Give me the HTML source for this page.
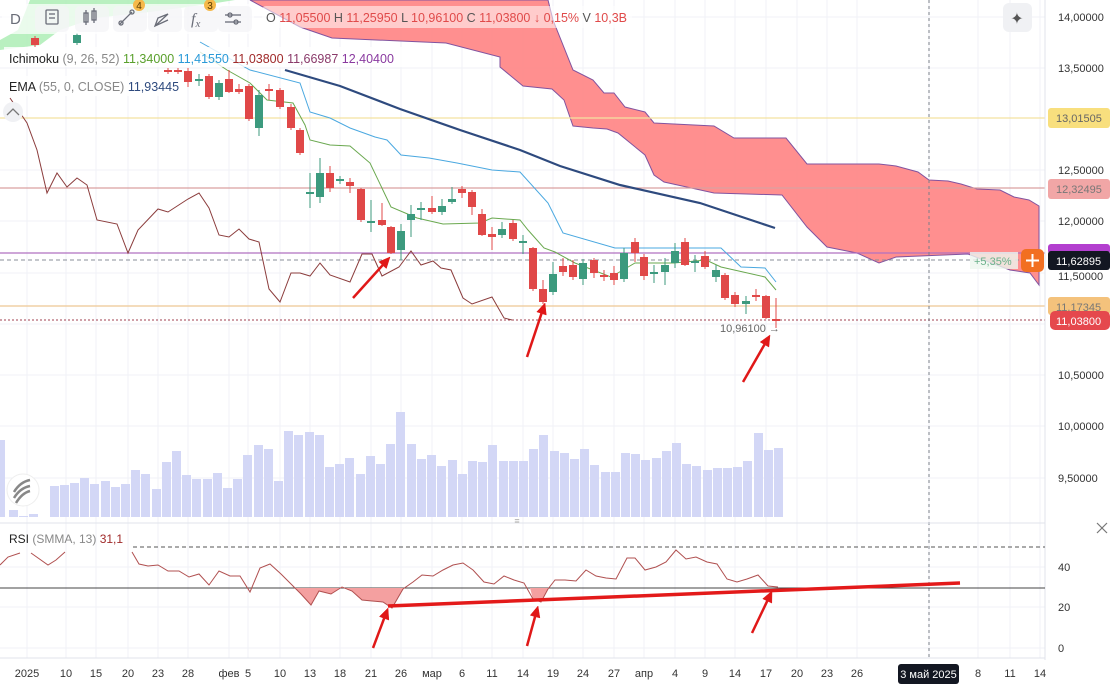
<!DOCTYPE html>
<html><head><meta charset="utf-8">
<style>
html,body{margin:0;padding:0;background:#fff;}
body{width:1114px;height:685px;overflow:hidden;position:relative;font-family:"Liberation Sans",sans-serif;}
svg{position:absolute;left:0;top:0;}
</style></head>
<body>
<svg id="s" width="1114" height="685" viewBox="0 0 1114 685" xmlns="http://www.w3.org/2000/svg" font-family="Liberation Sans, sans-serif">
<g id="grid" stroke="#f0f2f7" stroke-width="1"></g>
<!-- green cloud top-left -->
<polygon points="0,40 18,30 30,0 235,0 210,4 150,12 95,18 60,30 40,45 0,50" fill="#a8ecb0" opacity="0.8"/>
<!-- red cloud -->
<polygon id="cloud" fill="#ff8a8a" opacity="0.95" stroke="#7c4a9a" stroke-width="1"
 points="250,0 548,0 553,20 573,70 593,80 604,93 614,93 625,107 645,112 654,123 714,126 734,138 786,138 807,164 879,164 896,166 918,172 929,180 948,181 961,184 977,189 1000,190 1014,197 1029,200 1039,206 1039,285 1030,273 1010,270 968,254 896,257 879,263 857,253 827,247 807,227 782,195 714,193 664,182 654,175 645,155 618,133 607,129 593,128 573,126 564,100 552,89 523,86 500,67 500,57 446,43 332,38 300,27"/>
<!-- horizontal level lines -->
<line x1="0" y1="118" x2="1045" y2="118" stroke="#f3e2a0" stroke-width="1.2"/>
<line x1="0" y1="188" x2="1045" y2="188" stroke="#d9a0a0" stroke-width="1.2"/>
<line x1="0" y1="253" x2="1045" y2="253" stroke="#b070c0" stroke-width="1.2"/>
<line x1="0" y1="260" x2="1040" y2="260" stroke="#8a8f9a" stroke-width="1" stroke-dasharray="4,3"/>
<line x1="0" y1="306" x2="1045" y2="306" stroke="#eec893" stroke-width="1.2"/>
<line x1="0" y1="320" x2="1045" y2="320" stroke="#a04050" stroke-width="1" stroke-dasharray="2,2"/>
<line x1="929" y1="0" x2="929" y2="660" stroke="#7a7f8a" stroke-width="1" stroke-dasharray="3,3"/>
<!-- volume -->
<g id="vol" fill="#d3d7f6"></g>
<!-- chikou -->
<polyline fill="none" stroke="#8b3c3c" stroke-width="1" points="10,98 27,123 37,150 47,193 57,173 67,187 77,178 87,185 97,220 117,224 128,253 138,230 158,209 168,212 188,199 199,193 209,208 219,235 229,237 239,229 249,239 259,242 269,289 280,302 291,273 300,273 310,276 320,263 330,275 350,282 362,254 372,254 382,276 399,267 411,251 421,265 433,261 441,268 451,270 463,298 472,304 492,297 504,318 512,320"/>
<!-- kijun -->
<polyline fill="none" stroke="#4aa8e0" stroke-width="1" points="200,42 250,70 300,83 310,112 330,118 350,128 375,137 387,140 401,155 429,158 457,163 492,170 520,172 548,203 563,233 615,248 721,248 741,267 765,268 776,282"/>
<!-- tenkan -->
<polyline fill="none" stroke="#6aa84f" stroke-width="1" points="200,52 227,70 250,83 267,100 293,103 305,125 310,140 330,145 350,146 370,163 391,207 417,218 443,224 480,223 492,218 520,220 528,230 544,248 555,252 575,263 611,277 635,263 674,263 706,260 721,267 765,277 776,290"/>
<!-- EMA -->
<polyline fill="none" stroke="#2e4a7e" stroke-width="2.2" points="285,70 340,86 400,109 460,130 520,150 560,166 620,185 700,203 775,228"/>
<g id="candles"></g>
<!-- RSI pane -->
<line x1="0" y1="523" x2="1045" y2="523" stroke="#e0e3eb"/>
<line x1="1045" y1="0" x2="1045" y2="660" stroke="#e0e3eb"/>
<line x1="0" y1="658" x2="1045" y2="658" stroke="#e0e3eb"/>
<line x1="133" y1="547" x2="1045" y2="547" stroke="#555" stroke-dasharray="4,3"/>
<line x1="0" y1="588" x2="1045" y2="588" stroke="#444"/>
<polygon fill="#f4a0a0" points="295,588 301,594 311,605 319,591 331,594 342,587 352,591 362,600 372,601 383,602 392,608 403,589 405,588"/>
<polygon fill="#f4a0a0" points="530,588 533,599 541,602 548,589 549,588"/>
<polyline fill="none" stroke="#b05050" stroke-width="1" points="0,565 8,557 20,553"/>
<polyline fill="none" stroke="#b05050" stroke-width="1" points="31,553 48,565 56,560 65,552"/>
<polyline fill="none" stroke="#b05050" stroke-width="1" points="132,552 139,564 148,566 158,565 168,571 179,571 189,577 199,574 209,585 219,571 230,576 240,576 250,592 260,568 270,564 281,574 291,584 301,594 311,605 319,591 331,594 342,587 352,591 362,600 372,601 383,602 392,608 403,589 413,582 422,575 433,576 443,570 453,565 463,563 473,570 484,582 494,584 504,576 514,580 524,583 533,599 541,602 548,589 555,580 565,580 576,581 586,570 596,576 606,578 616,579 627,558 635,558 645,570 656,567 666,562 676,550 686,559 696,557 707,562 717,564 727,579 737,582 747,579 758,575 768,586 778,587"/>
<line x1="388" y1="606" x2="960" y2="583" stroke="#e31a1a" stroke-width="3.5"/>
<!-- arrows -->
<g stroke="#e01818" stroke-width="2.5" fill="#e01818" id="arrows"></g>
<!-- toolbar -->
<rect x="2" y="4" width="252" height="30" rx="6" fill="#fff" opacity="0.7"/>
<rect x="35" y="6" width="34" height="26" rx="5" fill="#f3f4f6" opacity="0.7"/>
<rect x="75" y="6" width="34" height="26" rx="5" fill="#f3f4f6" opacity="0.7"/>
<rect x="113" y="6" width="34" height="26" rx="5" fill="#f3f4f6" opacity="0.7"/>
<rect x="148" y="6" width="34" height="26" rx="5" fill="#f3f4f6" opacity="0.7"/>
<rect x="184" y="6" width="34" height="26" rx="5" fill="#f3f4f6" opacity="0.7"/>
<rect x="218" y="6" width="34" height="26" rx="5" fill="#f3f4f6" opacity="0.7"/>
<rect x="262" y="6" width="370" height="22" rx="4" fill="#fff" opacity="0.55"/>
<text x="10" y="24" font-size="15" fill="#6a6d78">D</text>
<g stroke="#6a6d78" stroke-width="1.3" fill="none">
<rect x="46" y="10" width="12" height="14" rx="1"/><line x1="49" y1="14" x2="55" y2="14"/><line x1="49" y1="18" x2="55" y2="18"/>
<rect x="84" y="13" width="4" height="9"/><line x1="86" y1="10" x2="86" y2="25"/><rect x="92" y="11" width="4" height="9"/><line x1="94" y1="8" x2="94" y2="23"/>
<line x1="120" y1="24" x2="132" y2="12"/><circle cx="132" cy="12" r="2"/><circle cx="121" cy="23" r="2"/>
<polyline points="155,26 168,14 158,18 155,26 168,20"/>
<line x1="225" y1="15" x2="241" y2="15"/><line x1="225" y1="22" x2="241" y2="22"/><circle cx="230" cy="15" r="2"/><circle cx="236" cy="22" r="2"/>
</g>
<text x="191" y="24" font-size="16" font-style="italic" fill="#6a6d78" font-family="Liberation Serif, serif">f<tspan font-size="11" dy="3">x</tspan></text>
<circle cx="139" cy="5" r="6" fill="#f6b94a"/><text x="139" y="9" font-size="10" text-anchor="middle" fill="#5a3b00">4</text>
<circle cx="210" cy="5" r="6" fill="#f6b94a"/><text x="210" y="9" font-size="10" text-anchor="middle" fill="#5a3b00">3</text>
<text x="266" y="22" font-size="12.5" fill="#e04a4a"><tspan fill="#555">O</tspan> 11,05500 <tspan fill="#555">H</tspan> 11,25950 <tspan fill="#555">L</tspan> 10,96100 <tspan fill="#555">C</tspan> 11,03800 ↓ 0,15% <tspan fill="#555">V</tspan> 10,3B</text>
<!-- legends -->
<rect x="4" y="47" width="410" height="20" fill="#fff" opacity="0.8"/>
<rect x="4" y="76" width="175" height="20" fill="#fff" opacity="0.8"/>
<text x="9" y="63" font-size="12.5" fill="#222">Ichimoku <tspan fill="#888">(9, 26, 52)</tspan> <tspan fill="#5aa02c">11,34000</tspan> <tspan fill="#2a9ad8">11,41550</tspan> <tspan fill="#a02a2a">11,03800</tspan> <tspan fill="#8a3a6a">11,66987</tspan> <tspan fill="#8a3aa0">12,40400</tspan></text>
<text x="9" y="91" font-size="12.5" fill="#222">EMA <tspan fill="#888">(55, 0, CLOSE)</tspan> <tspan fill="#2e4a7e">11,93445</tspan></text>
<circle cx="13" cy="112" r="10" fill="#f0f1f4"/><polyline points="7,115 13,109 19,115" fill="none" stroke="#777" stroke-width="1.3"/>
<circle cx="23" cy="490" r="16" fill="#fff" stroke="#eee"/>
<g stroke="#888" stroke-width="2.5" fill="none"><path d="M14,492 q6,-10 16,-12"/><path d="M14,498 q6,-10 16,-12"/><path d="M16,503 q6,-10 14,-12"/></g>
<text x="517" y="524" font-size="9" fill="#aaa" text-anchor="middle">≡</text>
<text x="9" y="543" font-size="12" fill="#222">RSI <tspan fill="#888">(SMMA, 13)</tspan> <tspan fill="#a02a2a">31,1</tspan></text>
<g stroke="#777" stroke-width="1.2"><line x1="1097" y1="523" x2="1107" y2="533"/><line x1="1107" y1="523" x2="1097" y2="533"/></g>
<!-- labels on chart -->
<text x="720" y="332" font-size="11" fill="#666">10,96100 →</text>
<rect x="970" y="252" width="48" height="17" fill="#eef6ef" opacity="0.8"/>
<text x="974" y="265" font-size="11" fill="#6ab08a">+5,35%</text>
<rect x="1021" y="249" width="23" height="23" rx="5" fill="#f26f21"/>
<g stroke="#fff" stroke-width="2"><line x1="1032.5" y1="254" x2="1032.5" y2="267"/><line x1="1026" y1="260.5" x2="1039" y2="260.5"/></g>
<rect x="1003" y="3" width="29" height="29" rx="6" fill="#f0f1f4"/>
<text x="1017" y="24" font-size="16" text-anchor="middle" fill="#555">✦</text>
<!-- right axis -->
<g font-size="11" fill="#333">
<text x="1058" y="21">14,00000</text>
<text x="1058" y="72">13,50000</text>
<text x="1058" y="174">12,50000</text>
<text x="1058" y="225">12,00000</text>
<text x="1058" y="280">11,50000</text>
<text x="1058" y="379">10,50000</text>
<text x="1058" y="430">10,00000</text>
<text x="1058" y="482">9,50000</text>
<text x="1058" y="571">40</text>
<text x="1058" y="611">20</text>
<text x="1058" y="652">0</text>
</g>
<rect x="1048" y="108" width="62" height="20" rx="3" fill="#f8df7e"/><text x="1056" y="122" font-size="11" fill="#666">13,01505</text>
<rect x="1048" y="179" width="62" height="20" rx="3" fill="#f1a6a6"/><text x="1056" y="193" font-size="11" fill="#777">12,32495</text>
<rect x="1048" y="244" width="62" height="10" rx="3" fill="#b33fcf"/>
<rect x="1048" y="251" width="62" height="19" rx="3" fill="#131722"/><text x="1056" y="265" font-size="11" fill="#fff">11,62895</text>
<rect x="1048" y="297" width="62" height="18" rx="3" fill="#f4c27c"/><text x="1056" y="311" font-size="11" fill="#777">11,17345</text>
<rect x="1050" y="311" width="60" height="19" rx="5" fill="#e5484d"/><text x="1056" y="325" font-size="11" fill="#fff">11,03800</text>
<!-- time axis -->
<g font-size="11" fill="#333" text-anchor="middle" id="dates">
<text x="27" y="677">2025</text><text x="66" y="677">10</text><text x="96" y="677">15</text><text x="128" y="677">20</text><text x="158" y="677">23</text><text x="188" y="677">28</text><text x="229" y="677">фев</text><text x="248" y="677">5</text><text x="280" y="677">10</text><text x="310" y="677">13</text><text x="340" y="677">18</text><text x="371" y="677">21</text><text x="401" y="677">26</text><text x="432" y="677">мар</text><text x="462" y="677">6</text><text x="492" y="677">11</text><text x="523" y="677">14</text><text x="553" y="677">19</text><text x="583" y="677">24</text><text x="614" y="677">27</text><text x="644" y="677">апр</text><text x="675" y="677">4</text><text x="705" y="677">9</text><text x="735" y="677">14</text><text x="766" y="677">17</text><text x="797" y="677">20</text><text x="827" y="677">23</text><text x="857" y="677">26</text><text x="978" y="677">8</text><text x="1010" y="677">11</text><text x="1040" y="677">14</text>
</g>
<rect x="898" y="664" width="61" height="20" rx="3" fill="#131722"/><text x="928.5" y="678" font-size="11" fill="#fff" text-anchor="middle">3 май 2025</text>
</svg>
<script>
var NS="http://www.w3.org/2000/svg";
function el(p,t,a){var e=document.createElementNS(NS,t);for(var k in a)e.setAttribute(k,a[k]);p.appendChild(e);return e;}
var g=document.getElementById('grid');
[27,66,96,128,158,188,229,248,280,310,340,371,401,432,462,492,523,553,583,614,644,675,705,735,766,797,827,857,929,978,1010,1040].forEach(function(x){el(g,'line',{x1:x,y1:0,x2:x,y2:658});});
[17,68,170,221,273,324,375,426,478,567,607,648].forEach(function(y){el(g,'line',{x1:0,y1:y,x2:1045,y2:y});});
var vol=document.getElementById('vol');
var vb=[[0,440],[13,510],[23,516],[33,514],[43,517],[54,486],[64,485],[74,483],[84,478],[94,484],[105,481],[115,487],[125,484],[135,470],[145,474],[156,489],[166,462],[176,451],[186,475],[196,479],[207,479],[217,473],[227,488],[237,479],[247,455],[258,445],[268,449],[278,481],[288,431],[298,435],[309,432],[319,435],[329,467],[339,464],[349,458],[360,474],[370,456],[380,464],[390,444],[400,412],[411,444],[421,459],[431,455],[441,466],[452,460],[462,474],[472,461],[482,462],[492,445],[503,461],[513,461],[523,461],[533,449],[543,435],[554,451],[564,453],[574,459],[584,449],[594,465],[605,472],[615,472],[625,453],[635,454],[645,460],[656,458],[666,451],[676,443],[686,464],[696,466],[707,470],[717,468],[727,468],[737,467],[747,461],[758,433],[768,450],[778,448]];
vb.forEach(function(b){el(vol,'rect',{x:b[0]-4,y:b[1],width:9,height:517-b[1]});});
var C=document.getElementById('candles');
var cd=[[35,38,45,36,47,'r'],[77,35,43,33,45,'g'],[168,70,72,68,74,'r'],[178,70,72,68,74,'r'],[188,71,82,68,87,'r'],[199,79,81,74,86,'g'],[209,76,97,74,99,'r'],[219,83,97,80,100,'g'],[229,79,92,70,93,'r'],[239,89,92,84,94,'r'],[249,86,119,84,121,'r'],[259,95,128,90,136,'g'],[269,89,91,84,100,'r'],[280,90,107,88,109,'r'],[291,107,128,104,130,'r'],[300,130,153,128,155,'r'],[310,192,194,173,208,'g'],[320,173,197,158,203,'g'],[330,173,188,166,192,'r'],[340,179,181,176,184,'g'],[350,182,186,178,193,'r'],[361,189,220,188,222,'r'],[371,221,223,200,232,'g'],[382,220,225,203,226,'r'],[391,227,253,226,254,'r'],[401,231,250,224,260,'g'],[411,214,220,205,237,'g'],[421,208,210,202,220,'g'],[432,208,212,196,214,'r'],[442,206,212,199,215,'g'],[452,199,202,187,204,'g'],[462,189,193,186,198,'r'],[472,192,207,190,215,'r'],[482,214,235,209,236,'r'],[492,234,237,227,250,'r'],[502,229,235,222,238,'g'],[513,223,239,220,241,'r'],[523,241,243,235,254,'g'],[533,248,289,247,291,'r'],[543,289,302,280,304,'r'],[553,274,292,262,295,'g'],[563,266,272,258,276,'r'],[573,265,277,260,280,'r'],[583,263,279,259,285,'g'],[594,260,273,258,278,'r'],[604,275,277,270,281,'r'],[614,273,280,266,285,'r'],[624,253,279,248,282,'g'],[635,242,253,238,262,'r'],[644,257,276,254,280,'r'],[654,272,274,265,283,'g'],[665,265,272,258,285,'g'],[675,251,263,243,268,'g'],[685,242,265,238,266,'r'],[695,261,263,255,272,'g'],[705,256,267,251,269,'r'],[716,270,277,265,282,'g'],[725,275,298,273,300,'r'],[735,295,304,292,307,'r'],[746,301,304,296,314,'g'],[756,295,297,289,301,'r'],[766,296,318,295,319,'r'],[776,319,321,298,328,'r']];
cd.forEach(function(c){var col=c[5]=='r'?'#e04848':'#3c9a7e';
el(C,'line',{x1:c[0],y1:c[3],x2:c[0],y2:c[4],stroke:col,'stroke-width':1});
var h=Math.max(c[2]-c[1],1.5);el(C,'rect',{x:c[0]-4,y:c[1],width:8,height:h,fill:col});});
var A=document.getElementById('arrows');
[[353,298,390,257],[527,357,545,303],[743,382,770,335],[373,648,388,608],[527,646,538,606],[752,633,772,591]].forEach(function(a){
var dx=a[2]-a[0],dy=a[3]-a[1],L=Math.sqrt(dx*dx+dy*dy),ux=dx/L,uy=dy/L;
var bx=a[2]-ux*11,by=a[3]-uy*11;
el(A,'line',{x1:a[0],y1:a[1],x2:bx,y2:by});
el(A,'polygon',{points:a[2]+','+a[3]+' '+(bx-uy*5)+','+(by+ux*5)+' '+(bx+uy*5)+','+(by-ux*5),'stroke-width':0.5});});
</script>
</body></html>
